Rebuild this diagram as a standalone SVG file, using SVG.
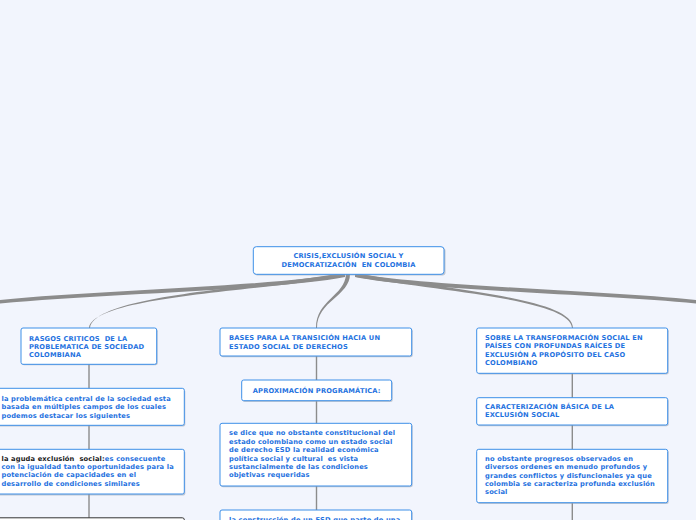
<svg xmlns="http://www.w3.org/2000/svg" width="696" height="520" viewBox="0 0 696 520">
<style>
.bg{fill:#f2f5fd}
.box{fill:#ffffff;stroke:#3d8fe8;stroke-width:1}
.sh{fill:#9aa3b0;opacity:0.55}
.t{font-family:"DejaVu Sans",Verdana,sans-serif;font-weight:bold;font-size:6.7px;letter-spacing:0.15px;fill:#1f72e0}
.k{fill:#1a1a1a}
.c{fill:#8c8c8c}
.v{stroke:#8c8c8c;stroke-width:1.4;fill:none}
</style>
<rect class="bg" x="0" y="0" width="696" height="520"/>
<g id="connectors">
<path class="c" d="M 345 273 C 280 286, 100 290, 0 300 L 0 303.5 C 100 294, 280 290, 345 277 Z"/>
<path class="c" d="M 355 273 C 420 286, 596 290, 696 300 L 696 303.5 C 596 294, 420 290, 355 277 Z"/>
<path class="c" d="M 340 273.5 C 250 289, 95.5 295, 90 328 L 89 328 C 93.5 297, 250 292, 341 277 Z"/>
<path class="c" d="M 357 273.5 C 450 290, 573 298, 573 328 L 572 328 C 571 300, 448 292, 356 277 Z"/>
<path class="c" d="M 346 274 C 345 296, 316 300, 316 328 L 317 328 C 317 301, 350 296, 350 274 Z"/>
<line class="v" x1="89" y1="364" x2="89" y2="520"/>
<line class="v" x1="316.5" y1="356" x2="316.5" y2="520"/>
<line class="v" x1="572.3" y1="373" x2="572.3" y2="520"/>
</g>
<g id="root">
<rect class="sh" x="254.5" y="248" width="191" height="27.5" rx="3"/>
<rect class="box" x="253.3" y="246.7" width="190.7" height="27.6" rx="3"/>
<text class="t" text-anchor="middle"><tspan x="348.5" y="258.3">CRISIS,EXCLUSIÓN SOCIAL Y</tspan><tspan x="348.5" y="267.3" xml:space="preserve">DEMOCRATIZACIÓN  EN COLOMBIA</tspan></text>
</g>
<g id="rasgos">
<rect class="sh" x="22" y="329.3" width="135.7" height="36" rx="2"/>
<rect class="box" x="21" y="328" width="135.7" height="36.3" rx="2"/>
<text class="t"><tspan x="29" y="340.7" xml:space="preserve">RASGOS CRITICOS  DE LA</tspan><tspan x="29" y="349">PROBLEMATICA DE SOCIEDAD</tspan><tspan x="29" y="357.3">COLOMBIANA</tspan></text>
</g>
<g id="problematica">
<rect class="sh" x="-5" y="389.6" width="190.3" height="37" rx="2"/>
<rect class="box" x="-6" y="388.3" width="190.3" height="37" rx="2"/>
<text class="t"><tspan x="1.5" y="401">la problemática central de la sociedad esta</tspan><tspan x="1.5" y="409.3">basada en múltiples campos de los cuales</tspan><tspan x="1.5" y="417.6">podemos destacar los siguientes</tspan></text>
</g>
<g id="aguda">
<rect class="sh" x="-5" y="450.6" width="190.3" height="45" rx="2"/>
<rect class="box" x="-6" y="449.3" width="190.3" height="44.7" rx="2"/>
<text class="t"><tspan x="1.5" y="460.7"><tspan class="k" xml:space="preserve">la aguda exclusión  social:</tspan>es consecuente</tspan><tspan x="1.5" y="469">con la igualdad tanto oportunidades para la</tspan><tspan x="1.5" y="477.3">potenciación de capacidades en el</tspan><tspan x="1.5" y="485.7">desarrollo de condiciones similares</tspan></text>
</g>
<g id="left-next">
<rect class="sh" x="-5" y="519" width="190.3" height="20" rx="2"/>
<rect x="-6" y="517.8" width="190.3" height="20" rx="2" fill="#ffffff" stroke="#333333" stroke-width="1"/>
</g>
<g id="bases">
<rect class="sh" x="221" y="329.3" width="191.7" height="28" rx="2"/>
<rect class="box" x="220" y="328" width="191.7" height="28" rx="2"/>
<text class="t"><tspan x="229" y="340">BASES PARA LA TRANSICIÓN HACIA UN</tspan><tspan x="229" y="348.6">ESTADO SOCIAL DE DERECHOS</tspan></text>
</g>
<g id="aproximacion">
<rect class="sh" x="242.7" y="381.3" width="150" height="20.7" rx="2"/>
<rect class="box" x="241.7" y="380" width="150" height="20.7" rx="2"/>
<text class="t" x="316.7" y="392.6" text-anchor="middle">APROXIMACIÓN PROGRAMÁTICA:</text>
</g>
<g id="sedice">
<rect class="sh" x="221" y="424.6" width="191.7" height="62.7" rx="2"/>
<rect class="box" x="220" y="423.3" width="191.7" height="62.7" rx="2"/>
<text class="t"><tspan x="229" y="435">se dice que no obstante constitucional del</tspan><tspan x="229" y="443.6">estado colombiano como un estado social</tspan><tspan x="229" y="452">de derecho ESD la realidad económica</tspan><tspan x="229" y="460.6" xml:space="preserve">política social y cultural  es vista</tspan><tspan x="229" y="469">sustancialmente de las condiciones</tspan><tspan x="229" y="477.3">objetivas requeridas</tspan></text>
</g>
<g id="construccion">
<rect class="sh" x="221" y="511.3" width="191.7" height="30" rx="2"/>
<rect class="box" x="220" y="510" width="191.7" height="30" rx="2"/>
<text class="t" x="229" y="521.6">la construcción de un ESD que parte de una</text>
</g>
<g id="sobre">
<rect class="sh" x="477.7" y="329.3" width="191" height="45.3" rx="2"/>
<rect class="box" x="476.7" y="328" width="191" height="45.3" rx="2"/>
<text class="t"><tspan x="485" y="340">SOBRE LA TRANSFORMACIÓN SOCIAL EN</tspan><tspan x="485" y="348.4">PAÍSES CON PROFUNDAS RAÍCES DE</tspan><tspan x="485" y="357">EXCLUSIÓN A PROPÓSITO DEL CASO</tspan><tspan x="485" y="365.2">COLOMBIANO</tspan></text>
</g>
<g id="caracterizacion">
<rect class="sh" x="477.7" y="399" width="191" height="27.3" rx="2"/>
<rect class="box" x="476.7" y="397.7" width="191" height="27.3" rx="2"/>
<text class="t"><tspan x="485" y="409">CARACTERIZACIÓN BÁSICA DE LA</tspan><tspan x="485" y="417.3">EXCLUSIÓN SOCIAL</tspan></text>
</g>
<g id="noobstante">
<rect class="sh" x="477.7" y="450.6" width="191" height="53.4" rx="2"/>
<rect class="box" x="476.7" y="449.3" width="191" height="53.4" rx="2"/>
<text class="t"><tspan x="485" y="460.7">no obstante progresos observados en</tspan><tspan x="485" y="469">diversos ordenes en menudo profundos y</tspan><tspan x="485" y="477.7">grandes conflictos y disfuncionales ya que</tspan><tspan x="485" y="486">colombia se caracteriza profunda exclusión</tspan><tspan x="485" y="494.3">social</tspan></text>
</g>
</svg>
